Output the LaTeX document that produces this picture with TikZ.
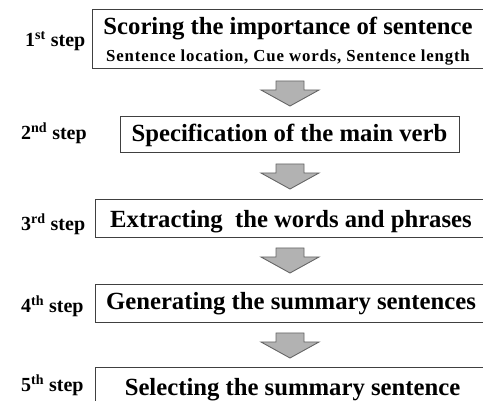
\documentclass[tikz,border=0pt]{standalone}
\usepackage{fontspec}
\setmainfont{Liberation Serif}
\tikzset{
  stepbox/.style={draw=black!75, line width=1.0pt, inner sep=0pt, fill=white},
  maintext/.style={anchor=base, inner sep=0pt, font=\bfseries\fontsize{24.7}{28}\selectfont},
  subtext/.style={anchor=base, inner sep=0pt, font=\bfseries\fontsize{16.8}{20}\selectfont\addfontfeature{LetterSpace=5}},
  steplabel/.style={anchor=base west, inner sep=0pt, font=\bfseries\fontsize{20}{24}\selectfont},
  blockarrow/.style={draw=black!60, line width=0.9pt, fill=black!30, line join=miter}
}
\newcommand{\blockarr}[1]{%
  \draw[blockarrow] (#1) ++(-14,0) -- ++(28,0) -- ++(0,9) -- ++(15,0) -- ++(-29,16) -- ++(-29,-16) -- ++(15,0) -- cycle;}
\begin{document}
\begin{tikzpicture}[x=1pt,y=-1pt]
\useasboundingbox (0,0) rectangle (483,401);
% boxes
\node[stepbox, minimum width=392pt, minimum height=59pt] (b1) at (288,39.5) {};
\node[stepbox, minimum width=339pt, minimum height=36pt] (b2) at (289.5,135) {};
\node[stepbox, minimum width=389pt, minimum height=38pt] (b3) at (289.5,219) {};
\node[stepbox, minimum width=389pt, minimum height=38pt] (b4) at (289.5,304) {};
\node[stepbox, minimum width=389pt, minimum height=38pt] (b5) at (289.5,387) {};
% texts
\node[maintext] (t1) at (288,35) {Scoring the importance of sentence};
\node[subtext] (t1s) at (288,61.5) {Sentence location, Cue words, Sentence length};
\node[maintext] (t2) at (289.5,142) {Specification of the main verb};
\node[maintext] (t3) at (291,227.5) {Extracting\ \ the words and phrases};
\node[maintext] (t4) at (291,310) {Generating the summary sentences};
\node[maintext] (t5) at (292.5,396) {Selecting the summary sentence};
% step labels
\node[steplabel] (s1) at (25,47) {1\textsuperscript{st} step};
\node[steplabel] (s2) at (21,140) {2\textsuperscript{nd} step};
\node[steplabel] (s3) at (21,231) {3\textsuperscript{rd} step};
\node[steplabel] (s4) at (21,313) {4\textsuperscript{th} step};
\node[steplabel] (s5) at (21,392) {5\textsuperscript{th} step};
% arrows
\coordinate (a1) at (290,81);
\coordinate (a2) at (290,164);
\coordinate (a3) at (290,248);
\coordinate (a4) at (290,333);
\blockarr{a1}
\blockarr{a2}
\blockarr{a3}
\blockarr{a4}
\end{tikzpicture}
\end{document}
